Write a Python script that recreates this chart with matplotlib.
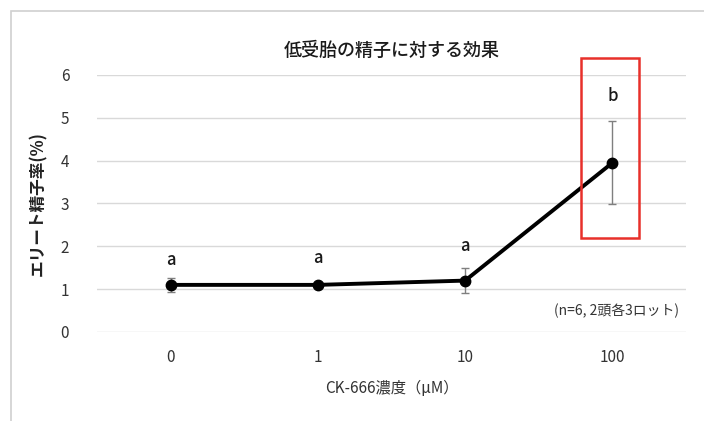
import matplotlib.pyplot as plt
from matplotlib.patches import Rectangle

plt.rcParams['font.family'] = ['Noto Sans CJK JP', 'DejaVu Sans']

conc = ["0", "1", "10", "100"]
rate = [1.1, 1.1, 1.2, 3.95]
err = [0.16, 0.03, 0.3, 0.97]
letters = ["a", "a", "a", "b"]
letter_y = [1.68, 1.72, 2.0, 5.5]

fig = plt.figure(figsize=(7.04, 4.21), dpi=100)
# outer frame of the chart area
fig.patches.append(Rectangle((11/704, -0.05), 1.2, 1 - 11/421 + 0.05,
                             transform=fig.transFigure, fill=False,
                             edgecolor="#d0d0d0", lw=1.2))
ax = fig.add_axes([97/704, 89/421, 589/704, 257/421])

x = list(range(len(conc)))
ax.errorbar(x, rate, yerr=err, fmt="none", ecolor="#7f7f7f", elinewidth=1,
            capsize=3, capthick=1, zorder=2)
ax.plot(x, rate, color="black", lw=2.8, marker="o", ms=7.5, zorder=3)

for xi, lab, ly in zip(x, letters, letter_y):
    ax.text(xi, ly, lab, ha="center", va="center", fontsize=12,
            fontweight="medium", color="#1a1a1a")

ax.add_patch(Rectangle((2.79, 2.2), 0.39, 4.2, fill=False, edgecolor="#e8302a",
                       lw=1.8, clip_on=False, zorder=4))

ax.text(3.45, 0.5, "(n=6, 2頭各3ロット)", ha="right", va="center",
        fontsize=10, color="#333333")

ax.set_xlim(-0.5, 3.5)
ax.set_ylim(0, 6)
ax.set_yticks(range(0, 7))
ax.set_xticks(x)
ax.set_xticklabels(conc)
ax.tick_params(length=0, labelsize=11, labelcolor="#333333", pad=12)
ax.tick_params(axis="y", pad=20)
ax.grid(axis="y", color="#d9d9d9", lw=1)
ax.set_axisbelow(True)
for s in ax.spines.values():
    s.set_visible(False)

ax.set_title("低受胎の精子に対する効果", fontsize=13, fontweight="medium",
             color="#1a1a1a", pad=14)
ax.set_xlabel("CK-666濃度（μM）", fontsize=11, color="#333333", labelpad=10)
ax.set_ylabel("エリート精子率(%)", fontsize=12, fontweight="bold",
              color="#222222", labelpad=10)

fig.savefig("out.png", dpi=100)
